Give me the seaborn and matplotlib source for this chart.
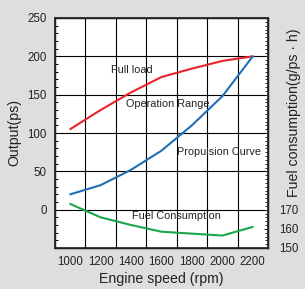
import numpy as np
import pandas as pd
import matplotlib
matplotlib.use('Agg')
import matplotlib.pyplot as plt
import seaborn as sns
from matplotlib.ticker import MultipleLocator, FixedLocator

# values
rpm = [1000, 1200, 1400, 1600, 1800, 2000, 2200]
full_load = [105, 130, 153, 173, 184, 194, 200]
propulsion = [20, 32, 52, 77, 110, 148, 200]
fuel = [173, 166, 162, 158.5, 157.5, 156.5, 161]

x_ticks = [1000, 1200, 1400, 1600, 1800, 2000, 2200]
y_ticks = [0, 50, 100, 150, 200, 250]
fuel_ticks = [150, 160, 170]

sns.set_theme(style='white')
plt.rcParams['font.family'] = ['Liberation Sans', 'DejaVu Sans']

bg = '#dedede'
txt = '#222222'
fig = plt.figure(figsize=(3.05, 2.89), dpi=100, facecolor=bg)
ax = fig.add_axes([55 / 305, 1 - 248 / 289, 213 / 305, 230 / 289])
ax.set_facecolor('white')

df = pd.DataFrame({'rpm': rpm, 'full': full_load, 'prop': propulsion})
sns.lineplot(data=df, x='rpm', y='full', color='#e8232a', lw=1.5, ax=ax)
sns.lineplot(data=df, x='rpm', y='prop', color='#1f6fb5', lw=1.5, ax=ax)

ax.set_xlim(900, 2300)
ax.set_ylim(-50, 250)
ax.xaxis.set_major_locator(FixedLocator(x_ticks))
ax.yaxis.set_major_locator(FixedLocator(y_ticks))
ax.yaxis.set_minor_locator(MultipleLocator(10))
ax.tick_params(axis='x', length=0, labelsize=8.3, pad=6, colors=txt)
ax.tick_params(axis='y', which='major', length=0, labelsize=8.3, pad=6, colors=txt)
ax.tick_params(axis='y', which='minor', direction='in', length=2.5, width=0.7,
               left=True, color='black')

# grid lines sit between the labelled speeds
for gx in range(1100, 2200, 200):
    ax.axvline(gx, color='black', lw=0.8, zorder=0.5)
for gy in [0, 50, 100, 150, 200]:
    ax.axhline(gy, color='black', lw=0.8, zorder=0.5)

for s in ax.spines.values():
    s.set_color('black')
    s.set_linewidth(1.0)

ax.set_xlabel('Engine speed (rpm)', fontsize=10.2, labelpad=3, color=txt)
ax.set_ylabel('Output(ps)', fontsize=10.2, labelpad=4, color=txt)

ax2 = ax.twinx()
sns.lineplot(x=rpm, y=fuel, color='#1aa64a', lw=1.5, ax=ax2)
ax2.set_ylim(150, 270)
ax2.yaxis.set_major_locator(FixedLocator(fuel_ticks))
ax2.yaxis.set_minor_locator(MultipleLocator(2))
ax2.tick_params(axis='y', which='major', direction='in', length=3, width=0.7,
                labelsize=8.3, pad=8, colors=txt)
ax2.tick_params(axis='y', which='minor', direction='in', length=2, width=0.7)
ax2.set_ylabel('Fuel consumption(g/ps · h)', fontsize=10.2, color=txt)
ax2.yaxis.set_label_coords(1.09, 0.59)
ax2.grid(False)

ax.text(1268, 182, 'Full load', fontsize=7.8, va='center', color=txt)
ax.text(1366, 138, 'Operation Range', fontsize=7.8, va='center', color=txt)
ax.text(1700, 75, 'Propulsion Curve', fontsize=7.8, va='center', color=txt)
ax.text(1405, -8, 'Fuel Consumption', fontsize=7.8, va='center', color=txt)

fig.savefig('out.png', dpi=100, facecolor=bg)
